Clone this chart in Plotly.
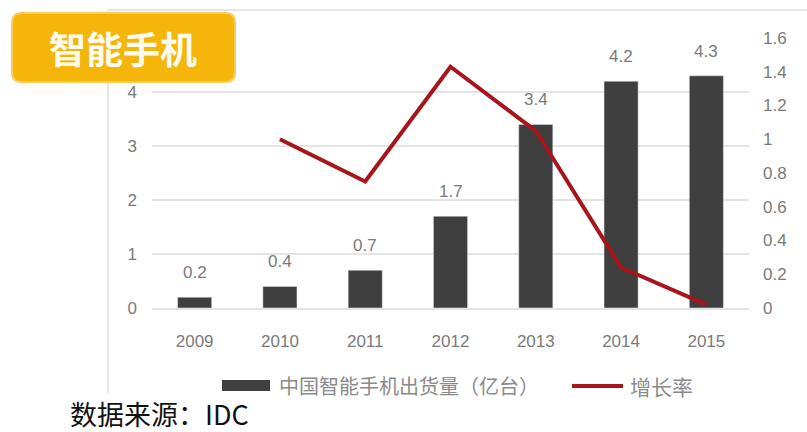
import plotly.graph_objects as go

# Shipment data (China smartphone shipments, 100 million units) and yearly growth
years = [2009, 2010, 2011, 2012, 2013, 2014, 2015]
shipments = [0.2, 0.4, 0.7, 1.7, 3.4, 4.2, 4.3]
growth_years = [2010, 2011, 2012, 2013, 2014, 2015]
growth = [1.0, 0.75, 1.43, 1.05, 0.24, 0.02]

bar_name = "中国智能手机出货量（亿台）"
line_name = "增长率"
badge_text = "智能手机"
source_text = "数据来源：IDC"

W, H = 807, 432
L, R, T, B = 152, 749, 38, 308  # plot area in pixels

BAR_COLOR = "#3f3f3f"
LINE_COLOR = "#a8141c"
GRID = "#e4e4e4"
TICK_FONT = dict(family="Liberation Sans, Arial, sans-serif", size=17, color="#7a7a7a")
CJK = "Noto Sans CJK SC"


def px(x):
    return (x - L) / (R - L)


def py(y):
    return (B - y) / (B - T)


fig = go.Figure()
fig.add_trace(go.Bar(x=years, y=shipments, name=bar_name, marker_color=BAR_COLOR,
                     width=0.4, showlegend=False))
fig.add_trace(go.Scatter(x=growth_years, y=growth, name=line_name, yaxis="y2",
                         mode="lines", line=dict(color=LINE_COLOR, width=4),
                         showlegend=False))

annotations = []
for yr, v in zip(years, shipments):
    annotations.append(dict(x=yr, y=v, xref="x", yref="y", text=f"{v}", showarrow=False,
                            xanchor="center", yanchor="bottom", yshift=13, font=TICK_FONT))

shapes = []
# frame lines of the card
shapes.append(dict(type="line", xref="paper", yref="paper", x0=px(108), x1=px(807),
                   y0=py(10), y1=py(10), line=dict(color="#e6e6e6", width=2), layer="below"))
shapes.append(dict(type="line", xref="paper", yref="paper", x0=px(108), x1=px(108),
                   y0=py(10), y1=py(393), line=dict(color="#e6e6e6", width=2), layer="below"))

# rounded badge
x0, y0, x1, y1, r = 12, 13, 235, 82, 10
path = (f"M {px(x0 + r)},{py(y0)} L {px(x1 - r)},{py(y0)} "
        f"Q {px(x1)},{py(y0)} {px(x1)},{py(y0 + r)} L {px(x1)},{py(y1 - r)} "
        f"Q {px(x1)},{py(y1)} {px(x1 - r)},{py(y1)} L {px(x0 + r)},{py(y1)} "
        f"Q {px(x0)},{py(y1)} {px(x0)},{py(y1 - r)} L {px(x0)},{py(y0 + r)} "
        f"Q {px(x0)},{py(y0)} {px(x0 + r)},{py(y0)} Z")
shapes.append(dict(type="path", xref="paper", yref="paper", path=path,
                   fillcolor="#f5b50a", line=dict(color="#f9cc55", width=2), layer="above"))
annotations.append(dict(x=px(123), y=py(48), xref="paper", yref="paper", text=f"<b>{badge_text}</b>",
                        showarrow=False, xanchor="center", yanchor="middle",
                        font=dict(family=CJK, size=37, color="#fffdf2")))

# legend
shapes.append(dict(type="rect", xref="paper", yref="paper", x0=px(222), x1=px(270),
                   y0=py(380), y1=py(391), fillcolor=BAR_COLOR, line=dict(width=0)))
annotations.append(dict(x=px(277), y=py(386), xref="paper", yref="paper", text=bar_name,
                        showarrow=False, xanchor="left", yanchor="middle",
                        font=dict(family=CJK, size=20, color="#8a8a8a")))
shapes.append(dict(type="line", xref="paper", yref="paper", x0=px(572), x1=px(623),
                   y0=py(386), y1=py(386), line=dict(color=LINE_COLOR, width=4)))
annotations.append(dict(x=px(628), y=py(386), xref="paper", yref="paper", text=line_name,
                        showarrow=False, xanchor="left", yanchor="middle",
                        font=dict(family=CJK, size=21, color="#8a8a8a")))

# source note
annotations.append(dict(x=px(68), y=py(413), xref="paper", yref="paper", text=source_text,
                        showarrow=False, xanchor="left", yanchor="middle",
                        font=dict(family=CJK, size=27, color="#111111")))

fig.update_layout(
    width=W, height=H,
    margin=dict(l=L, r=W - R, t=T, b=H - B),
    paper_bgcolor="white", plot_bgcolor="white",
    xaxis=dict(range=[2008.5, 2015.5], tickvals=years, ticktext=[str(y) for y in years],
               showgrid=False, showline=True, linecolor=GRID, linewidth=1.5, zeroline=False,
               tickfont=TICK_FONT, ticks="", ticklabelstandoff=17),
    yaxis=dict(range=[0, 5], tickvals=[0, 1, 2, 3, 4, 5], ticktext=["0", "1", "2", "3", "4", ""],
               showgrid=True, gridcolor=GRID, gridwidth=1.5, zeroline=False, showline=False,
               tickfont=TICK_FONT, ticklabelstandoff=14),
    yaxis2=dict(range=[0, 1.6], dtick=0.2, overlaying="y", side="right", showgrid=False,
                zeroline=False, showline=False, tickfont=TICK_FONT, ticklabelstandoff=13),
    annotations=annotations,
    shapes=shapes,
    font=dict(family=CJK),
)

fig.write_html("out.html")
